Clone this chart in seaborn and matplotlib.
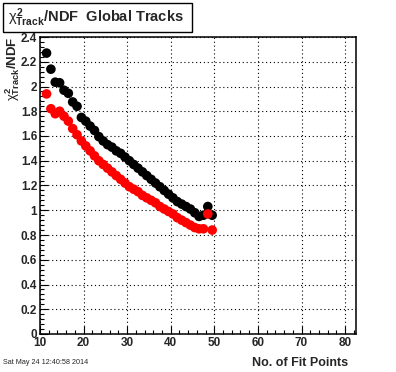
import numpy as np
import pandas as pd
import matplotlib
matplotlib.use("Agg")
import matplotlib.pyplot as plt
import matplotlib.ticker as ticker
from matplotlib.patches import Rectangle
import seaborn as sns

# === DATA ===
fit_points = [11.5, 12.5, 13.5, 14.5, 15.5, 16.5, 17.5, 18.5, 19.5, 20.5,
              21.5, 22.5, 23.5, 24.5, 25.5, 26.5, 27.5, 28.5, 29.5, 30.5,
              31.5, 32.5, 33.5, 34.5, 35.5, 36.5, 37.5, 38.5, 39.5, 40.5,
              41.5, 42.5, 43.5, 44.5, 45.5, 46.5, 47.5, 48.5, 49.5]
chi2_black = [2.27, 2.14, 2.035, 2.03, 1.97, 1.945, 1.875, 1.84, 1.75, 1.72,
              1.68, 1.645, 1.595, 1.56, 1.53, 1.51, 1.48, 1.46, 1.43, 1.40,
              1.37, 1.34, 1.31, 1.28, 1.25, 1.22, 1.19, 1.16, 1.13, 1.10,
              1.07, 1.05, 1.03, 1.01, 0.98, 0.95, 0.96, 1.03, 0.96]
chi2_red = [1.94, 1.82, 1.78, 1.80, 1.76, 1.72, 1.66, 1.61, 1.56, 1.52,
            1.48, 1.44, 1.40, 1.37, 1.34, 1.31, 1.28, 1.25, 1.22, 1.19,
            1.17, 1.15, 1.12, 1.10, 1.08, 1.06, 1.03, 1.01, 0.99, 0.97,
            0.94, 0.92, 0.90, 0.88, 0.86, 0.85, 0.85, 0.97, 0.84]

df = pd.concat([
    pd.DataFrame({"n": fit_points, "chi2": chi2_black, "set": "black"}),
    pd.DataFrame({"n": fit_points, "chi2": chi2_red, "set": "red"}),
], ignore_index=True)

# === STYLE ===
sns.set_style("ticks")
plt.rcParams["font.family"] = ["Liberation Sans", "DejaVu Sans"]
plt.rcParams["mathtext.fontset"] = "custom"
plt.rcParams["mathtext.rm"] = "Liberation Sans:bold"
plt.rcParams["mathtext.bf"] = "Liberation Sans:bold"
plt.rcParams["mathtext.it"] = "Liberation Sans"

W, H = 396, 372
fig = plt.figure(figsize=(W / 100, H / 100), dpi=100)
ax = fig.add_axes([40 / W, 1 - 334 / H, 316 / W, 297 / H])

sns.scatterplot(data=df, x="n", y="chi2", hue="set",
                palette={"black": "black", "red": "#ff0000"},
                s=48, edgecolor="none", linewidth=0, legend=False, ax=ax)

ax.set_xlim(10, 82.5)
ax.set_ylim(0, 2.4)
ax.xaxis.set_major_locator(ticker.MultipleLocator(10))
ax.xaxis.set_minor_locator(ticker.MultipleLocator(2))
ax.yaxis.set_major_locator(ticker.MultipleLocator(0.2))
ax.yaxis.set_minor_locator(ticker.MultipleLocator(0.04))
ax.yaxis.set_major_formatter(ticker.FuncFormatter(lambda v, p: f"{v:g}"))
ax.grid(True, which="major", color="black", linestyle=(0, (1, 2.5)), linewidth=0.8)
ax.tick_params(which="both", direction="in", top=False, right=False,
               labelsize=8.5, pad=2, width=0.8, color="black")
ax.tick_params(which="major", length=6)
ax.tick_params(which="minor", length=3)
for lab in ax.get_xticklabels() + ax.get_yticklabels():
    lab.set_fontweight("bold")
for sp in ax.spines.values():
    sp.set_visible(True)
    sp.set_color("black")
    sp.set_linewidth(1.1)

ax.set_xlabel("No. of Fit Points", fontsize=9, fontweight="bold",
              loc="right", va="top")
ax.xaxis.set_label_coords(0.975, -0.078)
ax.set_ylabel(r"$\chi^{2}_{\rm Track}$/NDF", fontsize=9.5, fontweight="bold",
              loc="top", va="center")
ax.yaxis.set_label_coords(-0.085, 1.0)

# title box
fig.patches.append(Rectangle((3 / W, 1 - 32 / H), 189 / W, 29 / H,
                             transform=fig.transFigure, facecolor="white",
                             edgecolor="black", linewidth=1.0))
fig.text(8 / W, 1 - 18 / H, r"$\chi^{2}_{\rm Track}$/NDF  Global Tracks",
         fontsize=10.5, fontweight="bold", va="center", ha="left")

fig.text(3 / W, 1 - 363 / H, "Sat May 24 12:40:58 2014", fontsize=5.2,
         va="center", ha="left")

fig.savefig("out.png", dpi=100, facecolor="white")
